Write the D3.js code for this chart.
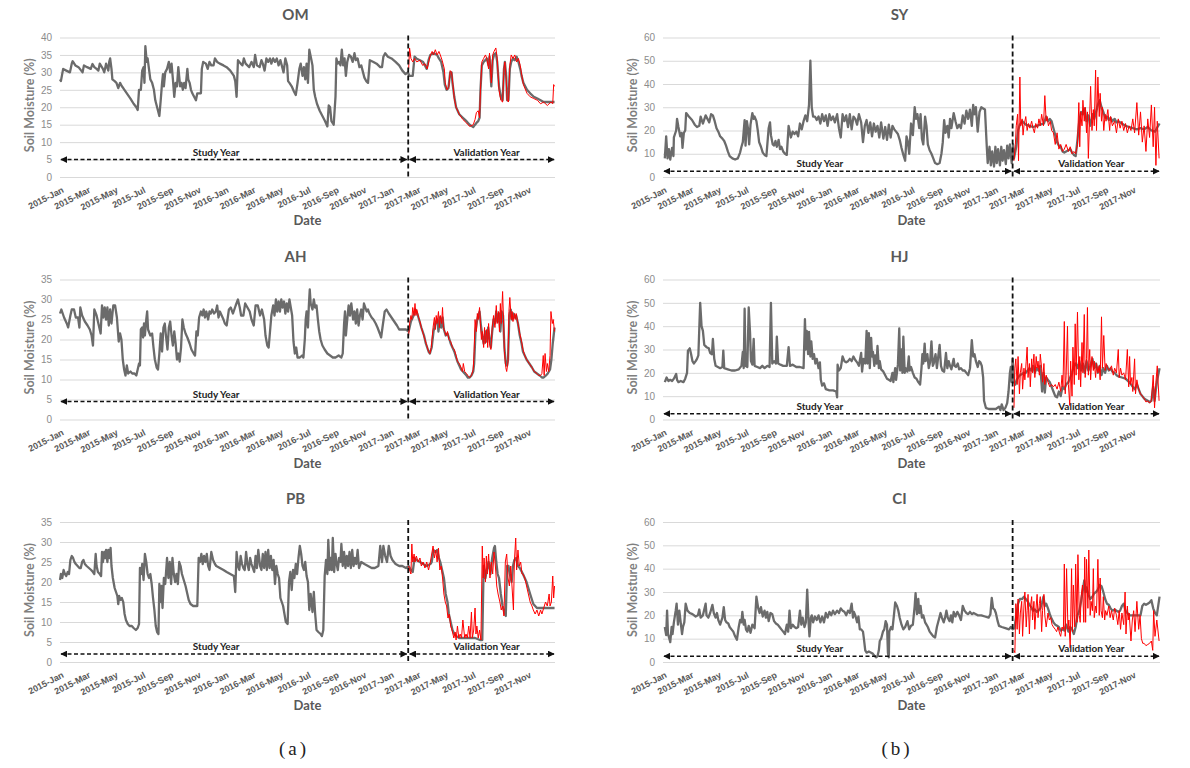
<!DOCTYPE html>
<html>
<head>
<meta charset="utf-8">
<script src="https://cdn.jsdelivr.net/npm/d3@7"></script>
<style>
  body { margin: 0; background: #fff; }
  svg { font-family: Lato, "Open Sans", sans-serif; }
</style>
</head>
<body>
<svg id="chart" width="1190" height="768"></svg>
<script>
// [day since 2015-01-01, soil moisture %]
const omGrey = [[0,28],[2,27.5],[7,31],[14,30.5],[22,30],[26,32.5],[28,33.2],[34,32],[41,31.5],[47,30.5],[50,30],[53,32],[60,31.5],[68,31],[72,32.4],[76,31.5],[81,31],[85,30.5],[88,32.5],[95,31],[98,30],[102,32.5],[107,30.5],[109,33],[111,34],[114,31],[116,28],[121,27.5],[125,27],[129,25.5],[133,27],[137,26],[140,25.5],[148,24],[156,22.5],[163,21],[169,20],[172,19.2],[175,25],[179,25],[182,30.5],[185,31.5],[187,27],[189,37.5],[192,33],[194,34],[197,31],[200,28],[204,27],[208,25],[211,22],[215,20],[218,18.5],[220,17.5],[223,22],[226,27],[228,29.5],[230,26],[233,30],[237,31],[241,33],[244,30],[247,32.5],[250,28],[253,23],[256,27],[259,26],[262,31.5],[266,26],[269,27],[272,25],[275,27],[278,25.5],[282,31],[284,28],[287,27],[290,25],[293,24],[297,23],[301,22],[304,24],[312,24],[314,31],[317,33],[323,32.5],[327,31],[331,33],[335,32],[340,32],[343,34],[348,33],[354,32.5],[362,32],[369,31.5],[377,30.5],[385,29],[388,27.5],[391,23],[394,33.5],[400,32.5],[404,32],[407,34],[411,32.5],[415,32],[419,31.5],[424,33],[429,31.5],[432,35],[436,32],[442,31.5],[446,33.5],[449,32.5],[453,30.5],[457,34],[461,33],[465,34],[468,32.5],[472,34],[476,33],[480,34],[484,32],[488,33.5],[491,32],[495,30],[499,34],[503,32],[505,27.5],[508,27],[513,26],[518,24.5],[522,23.5],[526,27],[530,31],[533,32.5],[537,29],[540,31.5],[543,28],[546,32.5],[549,27],[552,36.5],[556,34],[559,32],[562,25],[565,23],[569,21],[575,19],[581,17.5],[587,16],[592,14.5],[595,20.5],[598,20],[601,16],[606,15],[610,23],[612,34],[615,32.5],[618,33],[621,32],[624,36.5],[627,32],[630,34],[633,29],[636,33],[640,35],[644,34.5],[648,33],[652,35.5],[655,33.5],[659,34],[663,31.5],[667,32],[671,30],[674,28.5],[678,27.5],[682,27],[686,33.5],[694,33],[701,32.5],[709,31.5],[713,31.5],[716,34.5],[720,35.5],[726,34.5],[734,34],[743,33],[751,32],[758,30.5],[765,29.5],[770,30],[774,29],[781,29],[785,34.5],[789,34],[797,33.5],[804,33],[808,32],[812,31],[816,33.5],[820,35],[827,35.5],[835,35],[839,34],[844,33],[849,30],[852,26.5],[856,25],[860,25.5],[864,30],[867,30],[869,27],[873,23],[877,20],[884,18],[892,17],[900,16],[907,15],[915,14.3],[919,15],[922,15.5],[926,16],[929,17],[931,25],[934,32],[938,33],[942,33.5],[945,34],[949,32],[951,34.5],[955,26],[958,33.5],[961,35],[965,35.5],[968,33],[972,26],[976,23],[980,22],[983,31],[985,33],[988,29],[990,22],[993,22],[996,31],[999,33],[1003,34],[1007,33.5],[1011,34.5],[1015,33],[1019,31],[1022,29],[1026,27],[1034,25],[1041,24],[1049,23],[1057,22.5],[1064,22],[1071,21.5],[1079,21.5],[1087,21.5],[1095,21.5]];
const omRed = [[772,31],[774,37],[777,34],[781,33],[785,34],[790,33],[797,33.5],[803,32],[808,32.5],[813,31],[819,34.5],[824,36],[827,35],[831,36.5],[835,35],[839,36],[842,35],[846,33.5],[851,31],[853,27],[857,25],[861,26],[864,30.5],[867,30],[870,26.5],[873,22.5],[877,20],[884,18],[892,16.5],[900,15.5],[907,14.5],[915,15],[919,16.5],[922,18.5],[926,19],[929,17],[931,25],[934,33],[938,34],[942,35],[945,34],[949,31],[951,35.5],[955,27],[958,35],[961,36],[965,37],[968,34],[972,25],[976,22],[980,21.5],[983,31],[985,33],[988,28],[990,22],[993,21.5],[996,32],[999,35],[1003,34],[1007,35],[1011,33],[1015,34],[1019,32],[1022,29.5],[1026,26.5],[1034,24],[1041,23],[1049,22.5],[1057,22],[1064,21],[1071,21.5],[1079,20.5],[1087,21.5],[1091,21],[1093,26.5],[1095,26]];

const ahGrey = [[0,26.5],[3,27.5],[9,25.5],[15,24],[18,23],[23,26],[26,27.5],[31,27.5],[35,25.5],[40,25.5],[43,23],[45,28],[49,26],[55,24.5],[61,23.5],[66,22.5],[70,21],[73,18.5],[76,27.5],[81,26],[86,23.5],[90,21.5],[93,28.5],[96,25.5],[99,28],[102,25],[105,28],[108,23.5],[111,27.5],[114,24],[118,28.5],[122,28.5],[126,25.5],[130,19.5],[133,21.5],[136,20],[139,15],[142,12.5],[145,11],[148,13.5],[151,11.5],[156,12],[160,11.5],[165,11.5],[169,11],[172,12.5],[175,14],[177,13.5],[179,22.5],[182,23],[184,20.5],[186,24],[188,21],[191,25],[193,27],[195,22.5],[200,21],[204,21.5],[207,18],[210,15],[214,13],[217,12.5],[220,16.5],[223,21.5],[226,17],[229,23],[232,24],[235,20.5],[238,17.5],[241,23],[244,24.5],[247,21],[250,18.5],[253,22],[256,19],[259,15],[262,16.5],[265,14.5],[268,18],[271,25],[274,23],[278,21.5],[282,20.5],[287,19],[291,17.5],[296,16.5],[299,16],[302,22],[305,21],[308,25.5],[312,27],[315,26],[318,27.5],[321,25.5],[324,27],[328,25],[331,27],[334,26.5],[337,27.5],[341,26.5],[345,27],[348,28.5],[351,25.5],[354,27],[358,26],[362,25],[365,24],[369,23.5],[374,27.5],[378,28],[383,26.5],[389,28.5],[394,30],[398,28],[401,26],[406,26],[410,29],[415,28],[420,27],[424,25],[429,23.5],[433,28.5],[438,28.5],[443,26],[447,27.5],[452,25],[455,21],[459,18.5],[462,18],[465,22],[468,26],[472,28.5],[475,26],[478,30],[481,27],[484,29.5],[487,27],[490,30],[493,28],[496,29.5],[499,26.5],[502,29],[505,27],[508,30],[511,28],[514,26],[517,19.5],[520,16.5],[523,18],[526,15.5],[531,15.5],[536,16],[539,15.5],[542,20],[544,25],[546,27],[549,23],[551,28.5],[553,32.5],[555,29],[559,27.5],[562,30],[565,28],[568,28.5],[571,25],[574,22],[577,20],[581,18.5],[586,17.5],[592,16.5],[598,16],[604,15.5],[610,15.5],[617,16],[623,15.5],[626,16.5],[629,24],[631,27],[633,21],[636,25],[639,28.5],[642,26],[645,29],[649,25],[652,27],[655,24],[658,27.5],[661,23.5],[664,26],[667,27.5],[670,25],[673,29],[676,28],[679,27],[682,27.5],[685,26.5],[690,25.5],[694,25],[699,24],[703,23],[708,21.5],[711,20.5],[714,23],[719,27],[723,27.5],[728,26.5],[734,25.5],[740,24.5],[746,23.5],[751,22.5],[758,22.5],[766,22.5],[772,22],[777,24.5],[783,26],[787,27.5],[791,26.5],[795,25],[800,23],[806,21],[810,19],[816,17],[819,16.5],[823,18],[827,22],[831,24],[835,25],[838,22],[841,25.5],[844,23],[847,25.5],[850,22.5],[854,21],[858,21.5],[861,20.5],[865,19],[869,18],[873,17],[877,15.5],[880,14.5],[884,13.5],[888,12.5],[892,12],[896,11.5],[900,11],[903,10.5],[907,10.5],[911,11],[915,12],[917,14],[920,22],[923,24.5],[926,26],[929,27],[932,23.5],[935,21],[938,19],[942,22],[945,19.5],[948,23],[951,20],[954,18],[957,22],[960,25],[963,24],[966,27],[969,24.5],[972,26.5],[975,22],[978,27],[981,26],[984,18],[987,14],[990,13.5],[992,15],[995,26],[998,27.5],[1001,25],[1004,26.5],[1007,25.5],[1010,26],[1014,24],[1018,21],[1022,19],[1025,17],[1029,16],[1033,15],[1039,14],[1045,13],[1050,12],[1056,11.5],[1062,11],[1067,10.5],[1071,10.5],[1076,11],[1080,11.5],[1085,12.5],[1088,15],[1091,19],[1095,23]];
const ahRed = [[772,21],[774,24],[777,26],[779,25],[781,28],[784,26],[786,29],[788,26],[790,27.5],[794,25.5],[797,24.5],[800,23],[804,21.5],[808,20],[812,18.5],[816,17],[819,16.5],[822,18],[826,23],[829,25.5],[831,22.5],[833,26],[835,24],[838,27],[840,23],[842,26],[845,24],[847,28],[849,23],[852,22],[855,21],[858,22],[861,20],[865,19.5],[869,18],[873,17.5],[877,16],[880,14.5],[884,14],[888,13],[891,12],[893,14],[896,12],[900,11.5],[903,11],[907,10.5],[911,11],[915,12.5],[917,17],[919,25],[922,22],[924,26.5],[926,25],[929,28],[931,24],[933,20],[935,22],[938,18],[940,23],[942,19],[945,22.5],[947,18],[949,24],[951,19],[954,17.5],[957,23],[960,26],[963,23],[966,28.5],[968,24],[971,27],[973,22],[975,29],[977,24],[980,32],[982,25],[984,17],[987,13],[989,12],[992,14.5],[994,27],[996,30.5],[999,25],[1001,27],[1003,24.5],[1006,26.5],[1008,25],[1010,26.5],[1014,24],[1018,21.5],[1022,19.5],[1025,17.5],[1029,16],[1033,15],[1039,14],[1045,13],[1050,12],[1056,11.5],[1060,11],[1064,11],[1067,11.5],[1070,16],[1072,11],[1074,16.5],[1077,12],[1079,14],[1082,12],[1085,16],[1087,27],[1090,24],[1092,25],[1095,22]];

const pbGrey = [[0,20.5],[2,22],[5,21],[8,23],[11,22],[14,21.5],[17,22.5],[20,22],[23,25.5],[26,26.5],[29,26],[32,25],[35,24.5],[39,24],[43,23.5],[46,23.5],[49,25],[52,25.5],[55,24.5],[59,24],[64,23.5],[69,23],[73,22.5],[76,22],[79,27],[81,24],[84,22.5],[88,22],[91,21.5],[93,27.5],[95,25],[98,27.5],[100,26],[102,28],[105,25],[107,28],[110,26],[112,28.5],[114,24],[117,21],[121,18.5],[124,17.5],[127,16.5],[129,14.5],[131,16.5],[134,15.5],[137,16],[140,15],[143,12],[146,10.5],[150,9.5],[154,9],[159,9],[163,8.5],[168,8],[172,8.5],[175,9.5],[177,23.5],[180,22],[182,24.5],[185,20.5],[188,27],[191,25],[194,22],[197,21],[200,22],[203,19.5],[206,16],[209,13],[212,9],[215,7.5],[218,7],[220,19.5],[223,15],[225,19],[227,13.5],[230,21],[233,19.5],[237,26],[240,21],[243,25],[246,19.5],[249,26],[252,22],[255,20],[258,22],[261,19.5],[264,25],[267,24],[270,22],[274,20.5],[278,19],[282,17],[285,15.5],[289,14.5],[295,14],[301,14],[304,14],[307,26],[310,25],[313,27],[316,24.5],[319,26.5],[322,25],[325,27],[328,24],[331,23],[335,27.5],[339,25.5],[343,24.5],[346,24],[354,23.5],[362,23],[369,22.5],[377,22],[385,21.5],[388,17.5],[391,27.5],[394,24],[397,23],[400,26.5],[403,24.5],[406,23.5],[409,23],[412,27.5],[415,24.5],[418,23],[421,26],[424,24.5],[427,23.5],[430,22.5],[433,26.5],[436,23.5],[439,28],[443,24],[446,23],[449,27],[452,23.5],[455,27.5],[458,23],[461,28],[464,23.5],[467,26.5],[470,23],[473,25.5],[476,19.5],[479,24],[482,22],[485,21],[488,16],[491,15],[494,14],[497,12],[500,10],[504,9.5],[507,20],[510,22.5],[513,18],[516,23],[519,21],[522,24.5],[525,22],[528,26],[531,29],[534,27],[537,24],[540,23],[543,25],[546,21.5],[549,20],[552,13],[555,17],[559,12.5],[562,17.5],[565,12],[568,8],[572,7.5],[577,7],[580,6.5],[583,8],[586,21.5],[589,25.5],[592,22],[594,30.5],[597,23],[599,26],[602,23],[604,31],[607,22.5],[610,27],[612,25],[615,23],[618,26],[621,25],[623,29.5],[626,24],[629,27.5],[632,23.5],[635,26.5],[638,24],[641,27.5],[644,23.5],[647,28],[650,24],[653,26],[656,24.5],[659,28],[662,23.5],[667,25],[674,24.5],[682,24],[690,23.5],[697,23.5],[705,24],[709,29],[713,25],[716,29],[720,26.5],[724,25],[728,29],[732,26.5],[736,25.5],[743,24.5],[751,24],[758,24],[766,23.5],[772,24],[777,23],[781,22.5],[785,26],[789,25.5],[797,25],[804,24.5],[812,24],[820,24.5],[823,25],[827,28],[831,27.5],[835,28],[839,26],[842,25],[846,23],[850,21],[854,17],[858,15],[861,12],[865,10],[869,8],[873,7],[877,6.5],[884,6],[896,6],[907,6],[919,6],[930,5.5],[935,5.5],[938,24],[942,21],[945,23],[949,25],[953,22],[957,26],[961,28.5],[963,29],[966,25],[969,22],[972,21],[976,17],[980,14],[984,12.5],[987,11.5],[990,24],[993,24],[996,22],[1000,20],[1003,24],[1006,25.5],[1010,26],[1014,24],[1018,23.5],[1025,22],[1033,20],[1041,17],[1048,14.5],[1056,13.5],[1095,13.5]];
const pbRed = [[772,24],[774,23],[777,22],[779,29.5],[781,25],[784,27],[786,25],[789,26.5],[793,25],[797,26],[800,24],[804,25],[808,23.5],[812,25],[816,23],[820,25],[823,27],[826,29],[829,26],[832,28],[835,25],[838,28.5],[841,23],[844,24],[847,21],[850,17],[853,15],[856,14],[859,11],[862,12],[865,9],[868,8],[872,6],[875,7.5],[877,5.5],[880,9],[883,6],[886,7],[889,6],[892,10.5],[896,6],[899,7],[902,6],[905,9],[908,6],[911,12.5],[913,6],[916,8],[919,13.5],[921,7],[923,9],[926,6],[929,8],[932,5.5],[935,29],[937,21],[939,26],[942,20],[944,26.5],[946,22],[949,27],[952,21],[955,25],[958,22],[961,27.5],[964,24],[967,19],[970,17],[974,15],[977,13],[980,14],[983,11.5],[986,25],[989,27],[992,21],[995,19],[998,24],[1001,18.5],[1004,13],[1006,25],[1009,31],[1011,23],[1014,28],[1017,24],[1020,25],[1023,22],[1025,22],[1029,21],[1033,19],[1037,17],[1041,15],[1045,14],[1048,13],[1052,12],[1056,13],[1060,11.5],[1064,13],[1067,12],[1071,13.5],[1075,15],[1079,14],[1083,17],[1085,14],[1088,15],[1091,21.5],[1093,16],[1095,19]];

const syGrey = [[4,8],[7,17.5],[10,8],[13,12],[16,7.5],[20,12.5],[23,9],[24,17],[29,20],[31,25],[34,21.5],[38,17.5],[41,19],[43,12.5],[46,19],[49,20],[51,27.5],[57,26],[64,24.5],[70,22.5],[75,21.5],[80,22],[83,26],[88,23],[94,26.5],[98,25],[102,23.5],[106,27],[110,26.5],[114,24],[118,21],[122,19.5],[126,17.5],[131,16.5],[135,15.5],[139,13.5],[143,11],[147,9],[153,8],[159,7.5],[165,8],[170,10.5],[173,13],[176,15],[180,24.5],[182,13.5],[185,24],[188,20],[190,14],[193,22.5],[197,27.5],[200,25],[202,26],[206,24],[209,20],[212,15],[216,13],[220,10.5],[224,9.5],[228,9],[233,21],[236,23.5],[238,18],[242,14],[245,13.5],[248,15.5],[251,13],[255,16],[258,12],[261,13],[265,11],[269,10],[273,9.5],[277,22],[282,17],[286,19.5],[290,18.5],[294,19.5],[298,17.5],[302,23],[306,20.5],[310,24],[314,26.5],[318,24],[322,31],[325,50],[328,30],[331,26],[335,26],[339,24.5],[343,26],[347,23],[351,27],[355,24],[359,26.5],[363,22],[367,27],[371,24.5],[375,26],[379,23.5],[384,27],[388,21],[392,17],[396,27],[400,24],[404,26.5],[408,21.5],[412,27],[416,20.5],[420,26],[424,25],[428,22.5],[432,27],[437,23.5],[441,15],[445,22],[449,24.5],[453,19],[457,23.5],[461,17.5],[465,23],[469,19.5],[473,22],[477,17],[481,23.5],[486,16.5],[490,21.5],[494,16],[498,22.5],[502,17],[506,22],[510,20.5],[514,19.5],[518,18.5],[522,16],[526,12.5],[530,9.5],[534,7],[537,17.5],[540,15],[543,10],[547,23],[551,18],[555,30],[558,25],[561,27],[565,21],[568,27],[571,16.5],[574,14],[578,26],[581,22],[584,14],[588,11.5],[592,10],[596,8],[600,6],[605,5.5],[610,6],[614,10],[617,15],[620,24.5],[623,19],[627,22],[630,17],[633,25],[636,21],[641,27.5],[645,24],[649,21],[653,22.5],[657,21],[661,26.5],[665,23],[669,28.5],[673,25],[677,29],[681,22],[684,31],[687,27],[690,30],[694,19.5],[698,28],[702,30],[706,29.5],[710,29],[714,13],[716,6],[720,13],[723,5],[726,11],[730,4.5],[733,13],[736,6],[739,12],[743,5],[746,13],[749,7],[752,11.5],[756,5.5],[759,13.5],[762,8],[765,14],[769,6],[772,14],[774,8],[777,11],[779,13],[783,20],[787,22.5],[792,24],[800,22.5],[808,22],[816,21.5],[824,22],[832,22.5],[840,23],[845,26],[849,24],[853,25],[857,24],[861,21],[865,18],[869,15],[873,13.5],[877,13],[881,11],[885,10.5],[889,11],[894,11.5],[898,12],[902,10.5],[906,9.5],[910,9],[914,16],[918,24],[922,28],[926,27],[930,29.5],[934,24],[938,26.5],[942,22],[947,27],[951,25],[955,28],[959,31],[963,33],[967,30],[971,28],[975,25.5],[979,26],[983,24.5],[987,25.5],[991,24],[996,25],[1000,23.5],[1004,24],[1012,23],[1020,22],[1028,21.5],[1036,21],[1045,20.5],[1053,21],[1061,20.5],[1069,21.5],[1077,20],[1085,19.5],[1089,21],[1095,23]];
const syRed = [[774,7],[777,14],[779,22],[782,27],[784,7],[787,43],[789,22],[792,25],[794,18],[796,22],[800,26],[803,20],[806,23],[809,21],[813,24],[816,21],[819,19],[822,23],[826,21],[829,25],[832,22],[835,27],[839,22],[842,35],[845,24],[847,26],[850,22],[854,24],[857,20],[861,19],[865,14],[869,19],[873,12],[877,14],[881,11],[885,12],[889,14],[894,11],[898,13],[902,10],[906,11],[910,10],[914,14],[917,32],[919,13],[921,28],[924,22],[926,33],[929,24],[931,30],[934,19],[936,28],[938,8],[941,27],[943,39],[946,20],[949,29],[951,22],[954,46],[956,20],[959,43],[962,26],[964,36],[967,24],[969,30],[972,20],[975,27],[977,24],[981,29],[985,20],[987,26],[991,22],[996,24],[1000,19],[1004,25],[1008,21],[1012,24],[1016,20],[1020,23],[1024,19],[1028,22],[1032,20],[1036,25],[1040,19],[1045,32],[1049,18],[1053,28],[1057,15],[1061,22],[1065,11],[1069,25],[1073,17],[1077,31],[1081,13],[1084,30],[1087,5],[1090,24],[1094,8]];

const hjGrey = [[4,16],[8,18],[12,16.5],[16,17],[20,16.5],[24,17.5],[29,19.5],[31,17],[34,16],[39,16.5],[45,16],[49,17.5],[53,20],[55,29.5],[59,30.5],[62,28],[65,25],[68,24],[72,25],[75,26],[78,27.5],[82,50],[85,40],[88,38],[91,32],[96,31],[101,30.5],[104,28.5],[108,28],[110,34.5],[113,26],[116,23],[121,22.5],[126,22],[131,22.5],[133,29.5],[135,22],[143,21.5],[151,21],[159,21],[167,21.5],[173,23],[176,29],[178,22],[180,47.5],[182,23],[186,22.5],[189,48],[192,37],[194,25],[197,23.5],[200,34.5],[202,23],[208,22.5],[214,22],[219,23],[224,22],[230,23],[235,22.5],[238,50],[241,24],[245,25],[249,24],[251,35.5],[254,24],[259,23.5],[265,23],[273,23],[277,31],[280,23],[286,23.5],[294,22.5],[302,22.5],[310,22],[313,43],[315,30],[317,38],[320,28],[322,37.5],[325,27],[327,33.5],[330,26],[333,28],[336,24],[339,26],[343,22],[346,24.5],[348,17],[351,14.5],[355,15.5],[359,13],[367,12.5],[375,12.5],[382,12],[384,9.5],[385,23.5],[388,21],[392,22],[396,27],[400,25],[404,24.5],[408,25],[412,26],[416,25],[420,27],[424,25.5],[428,24.5],[432,23],[437,28.5],[439,20.5],[442,26],[446,24],[449,38],[451,24],[454,37],[456,22],[459,35],[461,27],[463,29],[466,23],[468,27.5],[471,24],[473,31.5],[476,22],[478,25],[481,21.5],[486,20.5],[490,19],[494,17.5],[498,17],[502,16.5],[506,20],[508,16],[512,22],[514,17],[518,23.5],[521,39],[523,21],[526,30],[528,20],[530,35.5],[533,20],[535,22],[539,20.5],[542,27],[544,21],[547,22.5],[551,20],[555,18],[559,17.5],[563,16],[567,15],[570,22],[572,28],[574,24],[577,32.5],[579,25],[583,28],[586,22],[589,24.5],[592,33.5],[595,23],[597,24],[601,28],[604,22],[607,27],[610,32],[613,23],[616,21],[620,20.5],[624,28.5],[627,22],[630,25],[633,23],[636,21.5],[641,26],[643,23],[646,22.5],[650,24],[653,21.5],[657,22],[661,21],[665,21],[669,20],[673,19],[677,22],[681,34],[684,27],[687,28],[690,25],[694,22.5],[697,25],[700,24.5],[703,23],[706,18],[708,8],[712,5],[718,4.5],[726,4.5],[734,4.5],[741,5.5],[744,4],[747,6.5],[751,4],[755,5],[759,7],[762,12],[765,20],[767,22.5],[769,16],[771,26],[774,16],[777,15],[780,17],[783,18],[787,19],[792,19.5],[796,20],[800,20],[804,21],[808,22],[812,21],[816,23],[820,20],[824,22],[828,21],[832,23],[836,12],[839,20],[842,11.5],[845,18],[849,17],[853,16],[857,14],[861,12],[865,10],[869,9.5],[873,12],[877,10],[881,14],[885,13],[889,15],[894,16],[898,18],[902,20],[906,23],[910,24],[914,22],[918,25],[922,21],[926,24],[930,20],[934,25],[938,21],[942,23],[947,26],[951,22],[955,24],[959,20],[963,23],[967,19],[971,22],[975,20],[979,23],[983,21],[987,22],[991,20.5],[996,20],[1000,19],[1004,18.5],[1012,18],[1020,17.5],[1028,16],[1036,14],[1040,13],[1045,15],[1049,13],[1053,11],[1057,10],[1061,9],[1065,8.5],[1069,8],[1073,7.5],[1077,8],[1081,14],[1084,8],[1087,13],[1090,17],[1095,22]];
const hjRed = [[774,5],[776,22],[778,26],[781,15],[783,27],[786,11],[788,20],[791,24],[793,13],[796,22],[798,17],[801,25],[803,31],[805,18],[808,24],[810,14],[813,26],[815,20],[818,28],[820,18],[823,27],[825,22],[827,25],[830,19],[832,28],[835,22],[837,16],[840,24],[842,15],[845,19],[849,16],[853,14],[857,15],[861,14],[865,15],[869,13],[873,16],[877,12],[880,19],[882,14],[885,42],[887,11],[889,19],[892,40],[894,15],[897,6],[899,25],[902,10],[904,31],[907,15],[909,41],[911,19],[914,46],[917,17],[919,27],[921,14],[924,33],[926,20],[929,45],[931,18],[934,26],[936,48],[938,19],[941,30],[943,17],[946,27],[949,21],[951,25],[954,18],[956,24],[959,20],[962,23],[964,17],[967,44],[969,22],[972,36],[975,21],[977,24],[981,22],[985,21],[989,23],[993,19],[996,22],[1000,20],[1004,30],[1006,18],[1009,22],[1012,19],[1016,20],[1020,17],[1024,30],[1027,14],[1029,27],[1031,15],[1034,18],[1036,12],[1040,26],[1042,11],[1045,17],[1049,13],[1053,11],[1057,10],[1061,9],[1065,7.5],[1069,8],[1073,7],[1077,8],[1081,19],[1084,5],[1087,16],[1090,23],[1094,8]];

const ciGrey = [[4,15],[7,11.5],[9,22],[11,12],[14,10],[16,8.5],[19,15],[21,12],[24,17],[28,22],[30,25],[33,16],[36,22],[39,17],[42,12],[44,15],[47,17],[50,25],[54,22],[59,21],[65,20.5],[72,19.5],[77,20],[80,22.5],[83,19],[88,20],[94,25],[96,20],[100,19],[104,21],[109,24.5],[112,21],[116,19],[119,21],[122,18],[126,16],[131,19],[134,23.5],[137,18],[140,17],[144,16.5],[147,15],[151,14],[155,13],[159,11],[163,9.5],[167,15],[170,18],[173,17],[175,21.5],[178,16],[180,18],[183,14],[186,13],[189,15.5],[193,12.5],[197,16],[202,14.5],[206,28],[210,23],[213,21],[216,23.5],[220,19.5],[224,22],[227,19],[230,21.5],[233,17.5],[237,21],[241,20.5],[245,17.5],[249,16.5],[253,16],[257,15],[261,14],[265,13],[269,12],[273,16],[276,13],[279,22],[282,14.5],[286,16],[290,15],[294,14.5],[298,15],[302,22],[305,16],[308,19],[312,15],[315,17],[318,31],[321,17],[323,11],[326,19],[328,20],[331,17],[335,19.5],[339,18],[343,20],[347,17],[351,19.5],[355,17],[359,21],[363,19],[367,21.5],[371,20],[375,22],[379,20.5],[384,22],[388,21],[392,23],[396,22],[400,21.5],[404,20],[408,22],[412,21],[416,25],[419,19],[421,21.5],[424,20],[428,17],[431,19.5],[434,14],[437,14],[441,13],[443,10],[446,5],[449,4],[454,4.5],[459,4],[463,3.5],[467,2.5],[470,2],[473,2.5],[476,5],[478,9],[481,10],[485,13],[488,14],[491,17.5],[494,16],[496,4],[498,2],[499,13],[503,15],[506,14],[510,21.5],[512,25.5],[516,24],[519,22],[522,19],[526,16],[530,14],[534,15],[539,17.5],[543,14],[547,15.5],[551,16],[555,24],[557,29.5],[560,20.5],[563,27],[565,21],[568,24],[571,19],[574,20],[578,17],[581,16],[584,15],[588,13],[592,12],[596,11],[600,10.5],[604,15],[608,18],[612,21],[615,19],[619,17],[622,19],[625,22],[628,19],[632,17.5],[635,20],[638,17],[641,21.5],[645,19.5],[649,21.5],[653,20],[657,18],[661,24],[665,22],[669,21],[673,20.5],[677,21.5],[681,20.5],[685,21],[690,20.5],[694,20],[702,20],[710,19.5],[718,19],[722,20.5],[725,27.5],[728,23],[731,22.5],[734,21],[738,17.5],[741,15.5],[747,15],[755,14.5],[763,14],[767,15],[771,14],[775,14.5],[779,20],[783,25],[787,27],[792,27],[796,28],[800,27],[804,26],[808,24.5],[812,23.5],[816,22],[820,22.5],[824,21.5],[828,22],[832,23],[836,25.5],[839,28],[842,24],[845,25],[849,23],[853,20.5],[857,18.5],[861,17],[865,16],[869,15.5],[873,15],[877,13.5],[881,14],[885,13.5],[889,16],[894,13],[898,15],[902,14],[906,12],[910,15],[914,20],[918,22],[922,26],[926,31],[929,35],[932,30],[934,32],[938,29],[942,27],[947,28],[951,29.5],[955,30],[959,31],[963,33],[967,32.5],[971,30],[975,27],[979,25],[983,24.5],[987,23],[991,22],[996,22.5],[1000,22],[1004,21.5],[1008,22],[1012,24],[1016,25],[1020,22],[1024,21],[1028,20],[1053,20],[1057,24],[1061,25],[1065,24.5],[1069,25],[1073,25.5],[1077,26.5],[1081,23],[1085,21],[1089,20],[1095,28]];
const ciRed = [[774,5],[776,4],[778,25],[781,14],[783,27],[786,12],[788,21],[791,26],[793,11],[796,24],[798,30],[801,15],[803,22],[805,29],[808,12],[810,23],[813,28],[815,18],[818,26],[820,14],[823,24],[825,29],[827,19],[830,25],[832,28],[835,13],[837,22],[840,29],[842,20],[845,15],[849,21],[852,18],[855,19],[858,16],[861,15],[865,14],[868,13],[871,15],[875,12],[877,11],[880,15],[883,14],[885,42],[887,11],[890,40],[893,14],[895,18],[898,6],[901,40],[903,13],[905,33],[908,15],[910,42],[913,17],[915,46],[918,20],[920,17],[922,28],[925,33],[928,17],[930,45],[932,17],[934,44],[937,23],[939,48],[942,20],[944,26],[947,22],[949,40],[951,19],[954,24],[956,21],[959,44],[962,20],[964,36],[966,22],[969,19],[971,28],[974,18],[976,22],[979,20],[983,24],[986,19],[989,22],[993,18],[996,23],[1000,20],[1003,16],[1006,22],[1009,14],[1012,21],[1016,16],[1019,30],[1021,12],[1024,24],[1026,18],[1028,21],[1032,9],[1035,18],[1038,22],[1041,13],[1045,26],[1049,14],[1052,20],[1055,10],[1058,8],[1061,8],[1065,7],[1069,7.5],[1073,8],[1077,9],[1080,5],[1082,22],[1085,11],[1089,18],[1094,9]];

const panelNames = ["OM", "AH", "PB", "SY", "HJ", "CI"];
const yMaxes = [40, 35, 35, 60, 60, 60];
const yStepsList = [5, 5, 5, 10, 10, 10];
const arrowValues = [5, 4.5, 2, 2.5, 2.5, 2.5];
const greySeries = [omGrey, ahGrey, pbGrey, syGrey, hjGrey, ciGrey];
const redSeries = [omRed, ahRed, pbRed, syRed, hjRed, ciRed];
const splitDay = 771; // start of validation year
const captions = ["(a)", "(b)"];

const svg = d3.select("#chart");
const start = new Date(2015, 0, 1);
const end = new Date(2018, 0, 1);
const toDate = d => d3.timeDay.offset(start, d);

// marker for arrows
const defs = svg.append("defs");
defs.append("marker")
  .attr("id", "arr")
  .attr("viewBox", "0 0 10 10")
  .attr("refX", 9).attr("refY", 5)
  .attr("markerWidth", 7).attr("markerHeight", 7)
  .attr("markerUnits", "userSpaceOnUse")
  .attr("orient", "auto-start-reverse")
  .append("path").attr("d", "M0,0 L10,5 L0,10 Z").attr("fill", "#111");

// layout of the six plot areas
const cols = [{x0: 60, x1: 555}, {x0: 663, x1: 1160}];
const rows = [{top: 37.5, bottom: 177}, {top: 279.5, bottom: 419.5}, {top: 522, bottom: 662}];

panelNames.forEach((name, i) => {
  const c = cols[Math.floor(i / 3)];
  const r = rows[i % 3];
  const x = d3.scaleTime().domain([start, end]).range([c.x0, c.x1]);
  const y = d3.scaleLinear().domain([0, yMaxes[i]]).range([r.bottom, r.top]);
  const g = svg.append("g");

  // grid + y labels
  const yAxis = g.append("g")
    .attr("transform", `translate(${c.x0},0)`)
    .call(d3.axisLeft(y).tickValues(d3.range(0, yMaxes[i] + 0.1, yStepsList[i]))
      .tickSize(-(c.x1 - c.x0)).tickPadding(8));
  yAxis.select(".domain").remove();
  yAxis.selectAll("line").attr("stroke", "#d9d9d9").attr("stroke-width", 1);
  yAxis.selectAll("text").attr("fill", "#8c8c8c").style("font-size", "10px");

  // x labels
  const xAxis = g.append("g")
    .attr("transform", `translate(0,${r.bottom})`)
    .call(d3.axisBottom(x).tickValues(d3.timeMonth.every(2).range(start, end))
      .tickFormat(d3.timeFormat("%Y-%b")).tickSize(0));
  xAxis.select(".domain").remove();
  xAxis.selectAll("text")
    .attr("y", 0).attr("dy", 0)
    .attr("text-anchor", "end")
    .attr("transform", "translate(4,15) rotate(-27)")
    .attr("fill", "#595959")
    .style("font-size", "9px").style("font-weight", "bold");

  // series
  const line = d3.line().x(d => x(toDate(d[0]))).y(d => y(d[1]));
  g.append("path").datum(greySeries[i])
    .attr("fill", "none").attr("stroke", "#6b6b6b").attr("stroke-width", 2.3)
    .attr("stroke-linejoin", "round").attr("d", line);
  g.append("path").datum(redSeries[i])
    .attr("fill", "none").attr("stroke", "#ff0000").attr("stroke-width", 1)
    .attr("stroke-linejoin", "round").attr("d", line);

  // split line
  const xs = x(toDate(splitDay));
  g.append("line")
    .attr("x1", xs).attr("x2", xs).attr("y1", r.top - 2).attr("y2", r.bottom)
    .attr("stroke", "#111").attr("stroke-width", 1.8).attr("stroke-dasharray", "5,3");

  // period arrows
  const ya = y(arrowValues[i]);
  [[c.x0 + 1, xs - 1.5], [xs + 1.5, c.x1 - 1]].forEach(p => {
    g.append("line")
      .attr("x1", p[0]).attr("x2", p[1]).attr("y1", ya).attr("y2", ya)
      .attr("stroke", "#111").attr("stroke-width", 1.5).attr("stroke-dasharray", "4,2.5")
      .attr("marker-start", "url(#arr)").attr("marker-end", "url(#arr)");
  });
  g.append("text").text("Study Year")
    .attr("x", (c.x0 + xs) / 2 - 18).attr("y", ya - 4)
    .attr("text-anchor", "middle").attr("fill", "#222")
    .style("font-size", "10px").style("font-weight", "bold");
  g.append("text").text("Validation Year")
    .attr("x", (xs + c.x1) / 2 + 5).attr("y", ya - 4)
    .attr("text-anchor", "middle").attr("fill", "#222")
    .style("font-size", "10px").style("font-weight", "bold");

  // titles
  const cx = (c.x0 + c.x1) / 2;
  g.append("text").text(name)
    .attr("x", cx - 12).attr("y", r.top - 18)
    .attr("text-anchor", "middle").attr("fill", "#595959")
    .style("font-size", "15px").style("font-weight", "bold");
  g.append("text").text("Date")
    .attr("x", cx).attr("y", r.bottom + 48)
    .attr("text-anchor", "middle").attr("fill", "#595959")
    .style("font-size", "13px").style("font-weight", "bold");
  g.append("text").text("Soil Moisture (%)")
    .attr("transform", `translate(${c.x0 - 26},${(r.top + r.bottom) / 2 - 2}) rotate(-90)`)
    .attr("text-anchor", "middle").attr("fill", "#7f7f7f")
    .style("font-size", "12.5px").style("font-weight", "bold");
});

captions.forEach((t, k) => {
  svg.append("text").text(t)
    .attr("x", k === 0 ? 294 : 897).attr("y", 755)
    .attr("text-anchor", "middle").attr("fill", "#222")
    .style("font-family", "'Liberation Serif', 'DejaVu Serif', serif")
    .style("font-size", "19px").style("letter-spacing", "3px");
});
</script>
</body>
</html>
